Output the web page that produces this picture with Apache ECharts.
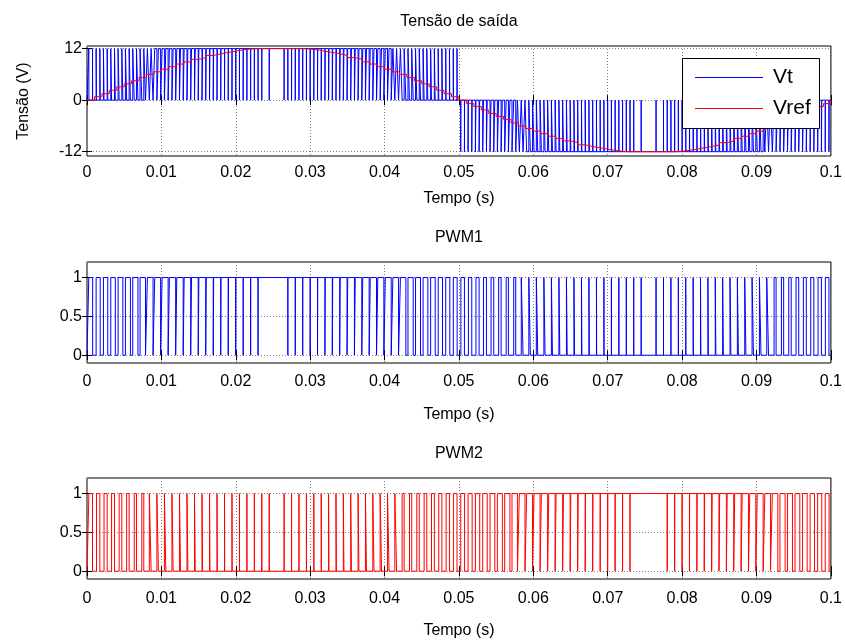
<!DOCTYPE html>
<html>
<head>
<meta charset="utf-8">
<script src="https://cdn.jsdelivr.net/npm/echarts@6/dist/echarts.min.js"></script>
<style>
  html, body { margin: 0; padding: 0; background: #fff; }
  #chart { width: 845px; height: 644px; }
</style>
</head>
<body>
<div id="chart"></div>
<script>
// ---- Simulation data --------------------------------------------------------
const T_END = 0.1;            // simulated time span (s)
const CARRIER_PERIOD = 0.001; // 1 kHz carrier
const VDC = 12;               // DC bus voltage (V)

const timeTicks = [0, 0.01, 0.02, 0.03, 0.04, 0.05, 0.06, 0.07, 0.08, 0.09, 0.1];
const timeTickLabels = ['0', '0.01', '0.02', '0.03', '0.04', '0.05', '0.06', '0.07', '0.08', '0.09', '0.1'];
const voltageTicks = [-12, 0, 12];
const switchTicks = [0, 0.5, 1];

// Sinusoidal reference, sampled every 1 ms (V)
const vrefValues = [
  0, 0.8, 1.5, 2.3, 3.1, 3.8, 4.5, 5.3, 6.0, 6.6,
  7.2, 7.8, 8.4, 8.9, 9.5, 9.9, 10.4, 10.8, 11.1, 11.4,
  11.7, 11.9, 12, 12, 12, 12, 12, 12, 12, 11.9,
  11.7, 11.4, 11.1, 10.8, 10.4, 9.9, 9.5, 8.9, 8.4, 7.8,
  7.2, 6.6, 6.0, 5.3, 4.5, 3.8, 3.1, 2.3, 1.5, 0.8,
  0, -0.8, -1.5, -2.3, -3.1, -3.8, -4.5, -5.3, -6.0, -6.6,
  -7.2, -7.8, -8.4, -8.9, -9.5, -9.9, -10.4, -10.8, -11.1, -11.4,
  -11.7, -11.9, -12, -12, -12, -12, -12, -12, -12, -11.9,
  -11.7, -11.4, -11.1, -10.8, -10.4, -9.9, -9.5, -8.9, -8.4, -7.8,
  -7.2, -6.6, -6.0, -5.3, -4.5, -3.8, -3.1, -2.3, -1.5, -0.8,
  0
];

// Duty cycle of the leg-1 switch in each carrier period
const pwm1Duty = [
  0.52, 0.55, 0.58, 0.61, 0.64, 0.67, 0.70, 0.73, 0.76, 0.79,
  0.81, 0.84, 0.86, 0.88, 0.90, 0.92, 0.94, 0.95, 0.97, 0.98,
  0.99, 0.99, 0.995, 1, 1, 1, 1, 0.995, 0.99, 0.99,
  0.98, 0.97, 0.95, 0.94, 0.92, 0.90, 0.88, 0.86, 0.84, 0.81,
  0.79, 0.76, 0.73, 0.70, 0.67, 0.64, 0.61, 0.58, 0.55, 0.52,
  0.48, 0.45, 0.42, 0.39, 0.36, 0.33, 0.30, 0.27, 0.24, 0.21,
  0.19, 0.16, 0.14, 0.12, 0.10, 0.08, 0.06, 0.05, 0.03, 0.02,
  0.01, 0.01, 0.005, 0.005, 0.005, 0, 0.005, 0.005, 0.01, 0.01,
  0.02, 0.03, 0.05, 0.06, 0.08, 0.10, 0.12, 0.14, 0.16, 0.19,
  0.21, 0.24, 0.27, 0.30, 0.33, 0.36, 0.39, 0.42, 0.45, 0.48
];

// Duty cycle of the leg-2 switch in each carrier period
const pwm2Duty = [
  0.48, 0.45, 0.42, 0.39, 0.36, 0.33, 0.30, 0.27, 0.24, 0.21,
  0.19, 0.16, 0.14, 0.12, 0.10, 0.08, 0.06, 0.05, 0.03, 0.02,
  0.01, 0.01, 0.005, 0.005, 0.005, 0, 0.005, 0.005, 0.01, 0.01,
  0.02, 0.03, 0.05, 0.06, 0.08, 0.10, 0.12, 0.14, 0.16, 0.19,
  0.21, 0.24, 0.27, 0.30, 0.33, 0.36, 0.39, 0.42, 0.45, 0.48,
  0.52, 0.55, 0.58, 0.61, 0.64, 0.67, 0.70, 0.73, 0.76, 0.79,
  0.81, 0.84, 0.86, 0.88, 0.90, 0.92, 0.94, 0.95, 0.97, 0.98,
  0.99, 0.99, 0.995, 1, 1, 1, 1, 1, 0.995, 0.99,
  0.98, 0.97, 0.95, 0.94, 0.92, 0.90, 0.88, 0.86, 0.84, 0.81,
  0.79, 0.76, 0.73, 0.70, 0.67, 0.64, 0.61, 0.58, 0.55, 0.52
];

// ---- Building the plotted tables -------------------------------------------
// Switch state changes [t, state]; each pulse is centred in its carrier period.
function transitions(duty) {
  const out = [];
  let cur = null;
  const set = (t, s) => { if (s !== cur) { out.push([t, s]); cur = s; } };
  duty.forEach((d, k) => {
    const t0 = k * CARRIER_PERIOD;
    const c = t0 + CARRIER_PERIOD / 2;
    const h = d * CARRIER_PERIOD / 2;
    if (d >= 1) { set(t0, 1); return; }
    set(t0, 0);
    if (d > 0) { set(c - h, 1); set(c + h, 0); }
  });
  return out;
}

// H-bridge output state: leg 1 minus leg 2
function bridgeStates(a, b) {
  const times = Array.from(new Set(a.map(p => p[0]).concat(b.map(p => p[0])))).sort((x, y) => x - y);
  const out = [];
  let ia = 0, ib = 0, sa = 0, sb = 0, cur = null;
  times.forEach(t => {
    while (ia < a.length && a[ia][0] <= t) sa = a[ia++][1];
    while (ib < b.length && b[ib][0] <= t) sb = b[ib++][1];
    const v = sa - sb;
    if (v !== cur) { out.push([t, v]); cur = v; }
  });
  return out;
}

// Square-wave polyline with vertical edges
function toPolyline(trans, scale) {
  const pts = [];
  trans.forEach(([t, s], i) => {
    if (i > 0) pts.push([t, trans[i - 1][1] * scale]);
    pts.push([t, s * scale]);
  });
  pts.push([T_END, trans[trans.length - 1][1] * scale]);
  return pts;
}

const s1 = transitions(pwm1Duty);
const s2 = transitions(pwm2Duty);
const vtLine = toPolyline(bridgeStates(s1, s2), VDC);
const pwm1Line = toPolyline(s1, 1);
const pwm2Line = toPolyline(s2, 1);
const vrefLine = vrefValues.map((v, i) => [i * CARRIER_PERIOD, v]);

// ---- Chart -----------------------------------------------------------------
const FONT = '"Liberation Sans", Arial, Helvetica, sans-serif';
const txt = { color: '#000', fontSize: 16, fontFamily: FONT };
const gridLine = { show: true, lineStyle: { color: '#808080', width: 1, type: [1, 2] } };
const BLUE = '#0000ff', RED = '#ff0000';

const panels = [
  { top: 46,  height: 110, yMin: -13,  yMax: 12.6, yTicks: voltageTicks, title: 'Tensão de saída', yName: 'Tensão (V)', lblGap: 9,  nameGap: 35 },
  { top: 262, height: 101, yMin: -0.1, yMax: 1.2,  yTicks: switchTicks,  title: 'PWM1', yName: '', lblGap: 11, nameGap: 44 },
  { top: 478, height: 101, yMin: -0.1, yMax: 1.2,  yTicks: switchTicks,  title: 'PWM2', yName: '', lblGap: 12, nameGap: 44 }
];

const grid = [], xAxis = [], yAxis = [];
panels.forEach((p, i) => {
  grid.push({ left: 87, right: 14, top: p.top, height: p.height, show: true,
              borderColor: '#000', borderWidth: 1, backgroundColor: 'transparent' });
  // bottom time axis
  xAxis.push({
    type: 'value', gridIndex: i, position: 'bottom', min: 0, max: T_END,
    axisLine: { show: false },
    axisTick: { show: true, inside: true, length: 5, customValues: timeTicks, lineStyle: { color: '#000' } },
    axisLabel: { customValues: timeTicks, margin: p.lblGap, ...txt,
                 formatter: v => { const j = timeTicks.indexOf(v); return j >= 0 ? timeTickLabels[j] : String(v); } },
    splitLine: gridLine,
    name: 'Tempo (s)', nameLocation: 'middle', nameGap: p.nameGap, nameTextStyle: txt
  });
  // top edge: inward ticks and panel title
  xAxis.push({
    type: 'value', gridIndex: i, position: 'top', min: 0, max: T_END,
    axisLine: { show: false },
    axisTick: { show: true, inside: true, length: 5, customValues: timeTicks, lineStyle: { color: '#000' } },
    axisLabel: { show: false }, splitLine: { show: false },
    name: p.title, nameLocation: 'middle', nameGap: 16, nameTextStyle: txt
  });
  yAxis.push({
    type: 'value', gridIndex: i, position: 'left', min: p.yMin, max: p.yMax,
    axisLine: { show: false },
    axisTick: { show: true, inside: true, length: 5, customValues: p.yTicks, lineStyle: { color: '#000' } },
    axisLabel: { customValues: p.yTicks, margin: 5, ...txt },
    splitLine: gridLine,
    name: p.yName, nameLocation: 'middle', nameGap: 55, nameTextStyle: txt
  });
  yAxis.push({
    type: 'value', gridIndex: i, position: 'right', min: p.yMin, max: p.yMax,
    axisLine: { show: false },
    axisTick: { show: true, inside: true, length: 5, customValues: p.yTicks, lineStyle: { color: '#000' } },
    axisLabel: { show: false }, splitLine: { show: false }
  });
});

const lineSeries = (name, data, color, xi, yi, extra) => Object.assign({
  name, type: 'line', data, xAxisIndex: xi, yAxisIndex: yi, color,
  showSymbol: false, symbol: 'none', silent: true, animation: false,
  lineStyle: { color, width: 1 }, itemStyle: { color }
}, extra || {});

// Legend box of the voltage panel: framed key with a line sample per series
const LEGEND_Z = 100;
const legendEntries = [{ name: 'Vt', color: BLUE }, { name: 'Vref', color: RED }];
const legendBox = {
  type: 'group', left: 682, top: 58, z: LEGEND_Z, silent: true,
  children: [
    { type: 'rect', z: LEGEND_Z, shape: { x: 0.5, y: 0.5, width: 137, height: 70 },
      style: { fill: '#ffffff', stroke: '#000000', lineWidth: 1 } }
  ].concat(legendEntries.flatMap((e, i) => [
    { type: 'rect', z: LEGEND_Z + 1, shape: { x: 13, y: 19 + 31 * i, width: 68, height: 1 },
      style: { fill: e.color } },
    { type: 'text', z: LEGEND_Z + 1, x: 91, y: 19.5 + 31 * i,
      style: { text: e.name, fill: '#000', fontSize: 21, fontFamily: FONT,
               align: 'left', verticalAlign: 'middle' } }
  ]))
};

const chart = echarts.init(document.getElementById('chart'), null, { renderer: 'canvas' });
chart.setOption({
  animation: false,
  backgroundColor: '#fff',
  grid, xAxis, yAxis,
  graphic: [legendBox],
  series: [
    lineSeries('Vt', vtLine, BLUE, 0, 0),
    lineSeries('Vref', vrefLine, RED, 0, 0, { step: 'end' }),
    lineSeries('PWM1', pwm1Line, BLUE, 2, 2),
    lineSeries('PWM2', pwm2Line, RED, 4, 4)
  ]
});
</script>
</body>
</html>
